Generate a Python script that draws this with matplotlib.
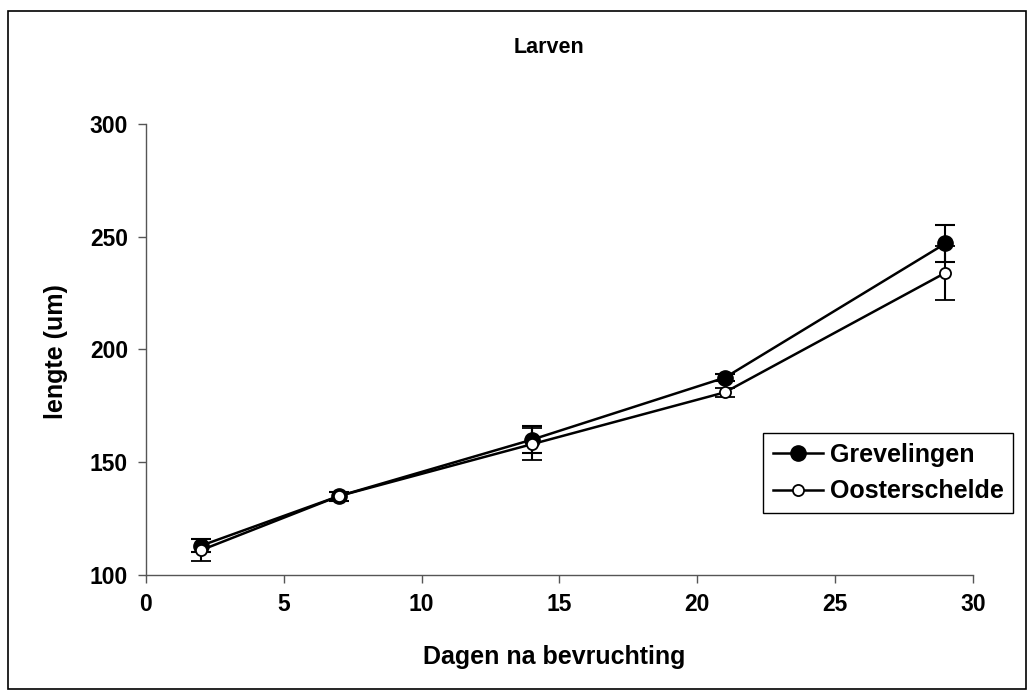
import matplotlib.pyplot as plt
from matplotlib.patches import Rectangle
from matplotlib.lines import Line2D

plt.rcParams['font.family'] = ['Liberation Sans', 'DejaVu Sans']
plt.rcParams['font.weight'] = 'bold'

# dagen na bevruchting
dagen = [2, 7, 14, 21, 29]

# gemiddelde lengte (um) en standaardafwijking
grevelingen = [113, 135, 160, 187.5, 247]
grevelingen_sd = [3, 2, 6, 1.5, 8]
oosterschelde = [111, 135, 158, 181, 234]
oosterschelde_sd = [5, 2, 7, 2, 12]

fig = plt.figure(figsize=(10.31, 6.93), dpi=100)
ax = fig.add_axes([0.1416, 0.1703, 0.8021, 0.6508])

# rand rond de hele figuur
fig.patches.append(Rectangle((0.008, 0.006), 0.987, 0.978, transform=fig.transFigure,
                             fill=False, edgecolor='black', linewidth=1.2))

ax.errorbar(dagen, grevelingen, yerr=grevelingen_sd, color='black', linewidth=1.8,
            marker='o', markersize=11, markerfacecolor='black', markeredgecolor='black',
            elinewidth=1.5, capsize=7, capthick=1.5, zorder=3)
ax.errorbar(dagen, oosterschelde, yerr=oosterschelde_sd, color='black', linewidth=1.8,
            marker='o', markersize=8, markerfacecolor='white', markeredgecolor='black',
            markeredgewidth=1.3, elinewidth=1.5, capsize=7, capthick=1.5, zorder=4)

ax.set_xlim(0, 30)
ax.set_ylim(100, 300)
ax.set_xticks([0, 5, 10, 15, 20, 25, 30])
ax.set_yticks([100, 150, 200, 250, 300])

for s in ['top', 'right']:
    ax.spines[s].set_visible(False)
for s in ['left', 'bottom']:
    ax.spines[s].set_color('#555555')
    ax.spines[s].set_linewidth(1.0)
ax.tick_params(direction='out', length=6, width=1.0, color='#555555', pad=7)
for lab in ax.get_xticklabels() + ax.get_yticklabels():
    lab.set_fontweight('bold')
    lab.set_fontsize(16.5)

fig.text(0.5325, 0.932, 'Larven', ha='center', va='center', fontsize=15.5, fontweight='bold')
fig.text(0.538, 0.052, 'Dagen na bevruchting', ha='center', va='center',
         fontsize=18, fontweight='bold')
fig.text(0.054, 0.493, 'lengte (um)', ha='center', va='center', rotation=90,
         fontsize=18, fontweight='bold')

handles = [
    Line2D([], [], color='black', linewidth=1.8, marker='o', markersize=11,
           markerfacecolor='black', markeredgecolor='black'),
    Line2D([], [], color='black', linewidth=1.8, marker='o', markersize=8,
           markerfacecolor='white', markeredgecolor='black', markeredgewidth=1.3),
]
leg = fig.legend(handles, ['Grevelingen', 'Oosterschelde'], loc='lower right',
                 bbox_to_anchor=(0.9825, 0.2598), fontsize=18,
                 frameon=True, fancybox=False, edgecolor='black', framealpha=1,
                 handlelength=2.0, handletextpad=0.28, borderpad=0.38,
                 labelspacing=0.5, borderaxespad=0)
leg.get_frame().set_linewidth(1.0)
for t in leg.get_texts():
    t.set_fontweight('bold')

fig.savefig('out.png', dpi=100)
